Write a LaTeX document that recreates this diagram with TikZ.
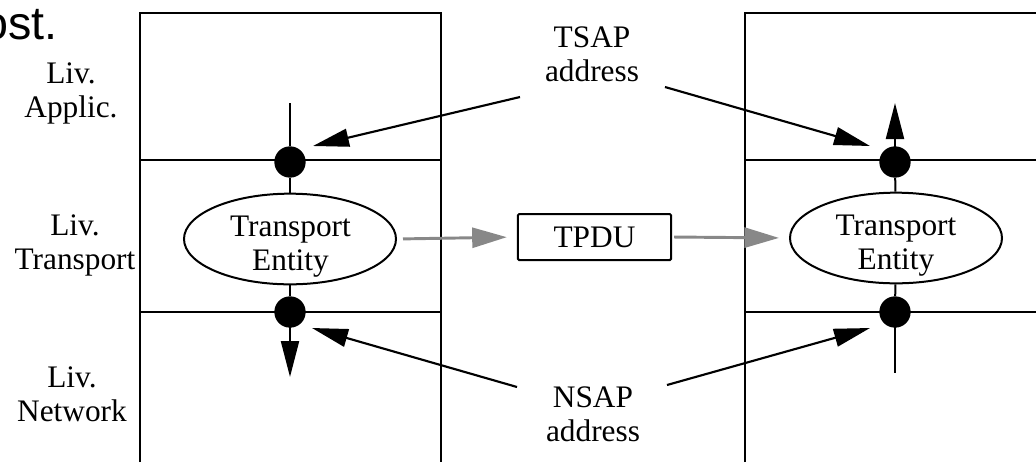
\documentclass[tikz,border=0pt]{standalone}
\usepackage{fontspec}
\setmainfont{Liberation Serif}
\newfontfamily\arialf{Liberation Sans}
\usetikzlibrary{arrows.meta,shapes.geometric}
\definecolor{arrgray}{RGB}{136,136,136}
\newcommand\twolines[2]{\begin{tabular}[t]{@{}c@{}}#1\\#2\end{tabular}}
\begin{document}
\begin{tikzpicture}[x=0.75pt,y=-0.75pt,
  frame/.style={line width=1.5pt},
  dotn/.style={circle,fill=black,minimum size=23.5pt,inner sep=0pt},
  ent/.style={ellipse,draw,line width=1.5pt,minimum width=159pt,minimum height=68pt,inner sep=0pt},
  lbl/.style={anchor=base,font=\fontsize{23.5}{26}\selectfont,inner sep=0pt},
  arr/.style={line width=1.6pt,-{Triangle[length=27pt,width=13.5pt]}},
  garr/.style={draw=arrgray,line width=2.2pt,-{Triangle[length=26pt,width=15pt]}},
  vline/.style={line width=1.5pt}]
\useasboundingbox (0,0) rectangle (1036,462);
% title fragment
\node[anchor=base west,inner sep=0pt,font=\arialf\fontsize{35}{35}\selectfont] (title) at (-18,39) {ost.};
% left box
\draw[frame] (140,462) -- (140,13) -- (441,13) -- (441,462);
\draw[frame] (140,160) -- (441,160);
\draw[frame] (140,312) -- (441,312);
% right box
\draw[frame] (745,462) -- (745,13) -- (1036,13);
\draw[frame] (745,160) -- (1036,160);
\draw[frame] (745,312) -- (1036,312);
% layer labels
\node[lbl] (lapp) at (71,83) {\twolines{Liv.}{Applic.}};
\node[lbl] (ltr) at (75,235) {\twolines{Liv.}{Transport}};
\node[lbl] (lnet) at (72,387) {\twolines{Liv.}{Network}};
% left stack
\coordinate (ltop) at (290,103);
\node[dotn] (ld1) at (290,162) {};
\node[ent] (le) at (290,239) {};
\node[lbl] (let) at (290.5,236) {\twolines{Transport}{Entity}};
\node[dotn] (ld2) at (290,312) {};
\coordinate (lbot) at (290,377);
\draw[vline] (ltop) -- (ld1);
\draw[vline] (ld1) -- (le);
\draw[vline] (le) -- (ld2);
\draw[arr] (ld2.center) -- (lbot);
% right stack
\coordinate (rtop) at (895,103);
\node[dotn] (rd1) at (895,162) {};
\node[ent] (re) at (896,238) {};
\node[lbl] (ret) at (896,235) {\twolines{Transport}{Entity}};
\node[dotn] (rd2) at (895,312) {};
\coordinate (rbot) at (895,373);
\draw[arr] (rd1.center) -- (rtop);
\draw[vline] (rd1) -- (re);
\draw[vline] (re) -- (rd2);
\draw[vline] (rd2.center) -- (rbot);
% TPDU
\node[draw,line width=1.5pt,rounded corners=1pt,minimum width=115pt,minimum height=34.5pt,inner sep=0pt,font=\fontsize{23.5}{26}\selectfont] (tpdu) at (594.5,237) {TPDU};
\draw[garr,shorten <=4.5pt,shorten >=7.5pt] (le.east) -- (tpdu.west);
\draw[garr,shorten <=1.5pt,shorten >=7.5pt] (tpdu.east) -- (re.west);
% address labels
\node[lbl] (tsap) at (592,47) {\twolines{TSAP}{address}};
\node[lbl] (nsap) at (593,407) {\twolines{NSAP}{address}};
\coordinate (ts1) at (520,97);
\coordinate (ts1e) at (313,146);
\coordinate (ts2) at (665,87);
\coordinate (ts2e) at (870,146);
\coordinate (ns1) at (517,387);
\coordinate (ns1e) at (312,328);
\coordinate (ns2) at (667,385);
\coordinate (ns2e) at (870,328);
\draw[arr] (ts1) -- (ts1e);
\draw[arr] (ts2) -- (ts2e);
\draw[arr] (ns1) -- (ns1e);
\draw[arr] (ns2) -- (ns2e);
\end{tikzpicture}
\end{document}
